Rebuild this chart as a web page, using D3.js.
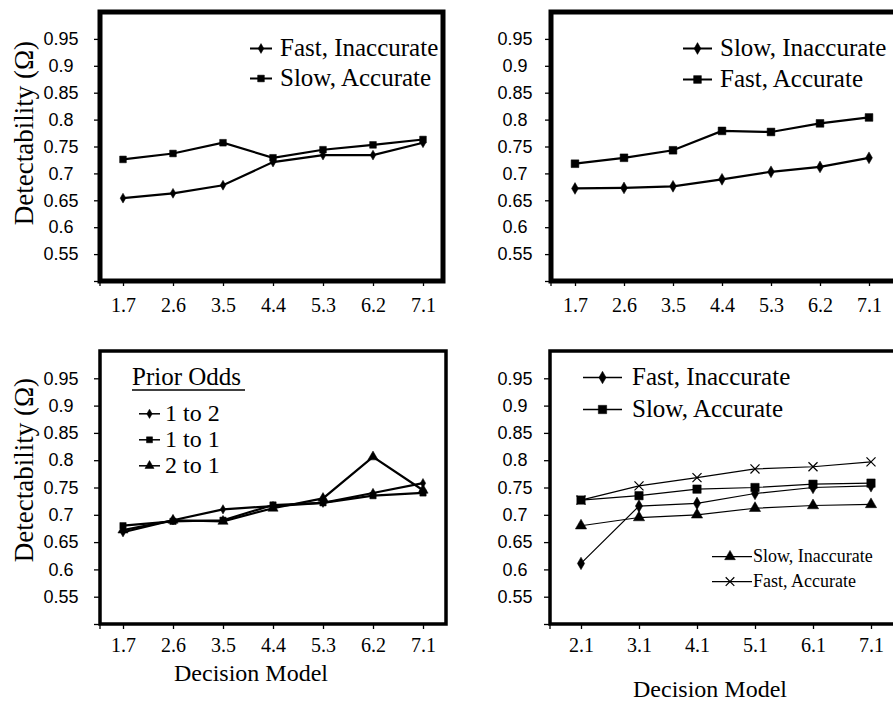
<!DOCTYPE html>
<html>
<head>
<meta charset="utf-8">
<title>detectability by decision model</title>
<script src="https://cdn.jsdelivr.net/npm/d3@7"></script>
<style>
  body { margin: 0; background: #fff; }
  svg { display: block; }
</style>
</head>
<body>
<svg width="893" height="702"></svg>
<script>
// ---- data ----
var modelsA = ["1.7", "2.6", "3.5", "4.4", "5.3", "6.2", "7.1"];
var modelsB = ["2.1", "3.1", "4.1", "5.1", "6.1", "7.1"];
var yTicks = [0.5, 0.55, 0.6, 0.65, 0.7, 0.75, 0.8, 0.85, 0.9, 0.95];

// top left
var fastInaccurate1 = [0.654, 0.663, 0.678, 0.721, 0.734, 0.734, 0.757];
var slowAccurate1   = [0.726, 0.737, 0.757, 0.729, 0.744, 0.753, 0.763];
// top right
var slowInaccurate2 = [0.672, 0.673, 0.676, 0.689, 0.703, 0.712, 0.729];
var fastAccurate2   = [0.718, 0.729, 0.743, 0.779, 0.777, 0.793, 0.804];
// bottom left, prior odds
var odds1to2 = [0.668, 0.690, 0.710, 0.716, 0.722, 0.740, 0.758];
var odds1to1 = [0.680, 0.688, 0.690, 0.718, 0.722, 0.735, 0.740];
var odds2to1 = [0.672, 0.690, 0.688, 0.712, 0.730, 0.806, 0.745];
// bottom right
var fastInaccurate4 = [0.611, 0.716, 0.721, 0.739, 0.750, 0.753];
var slowAccurate4   = [0.727, 0.735, 0.747, 0.750, 0.756, 0.758];
var slowInaccurate4 = [0.680, 0.695, 0.700, 0.712, 0.717, 0.719];
var fastAccurate4   = [0.727, 0.753, 0.768, 0.784, 0.788, 0.797];

var SERIF = "'Liberation Serif', 'Times New Roman', serif";
var SANS = "'Liberation Sans', Arial, sans-serif";

var svg = d3.select("svg");

function marker(sel, type, size) {
  var sym = {diamond: d3.symbolDiamond, square: d3.symbolSquare,
             triangle: d3.symbolTriangle, x: d3.symbolX}[type];
  sel.attr("d", d3.symbol().type(sym).size(size))
    .attr("fill", type === "x" ? "none" : "#000")
    .attr("stroke", "#000")
    .attr("stroke-width", type === "x" ? 1.2 : 0.5);
}

function drawPanel(p) {
  var g = svg.append("g");
  var x = d3.scalePoint().domain(p.cats).range(p.xr);
  var y = d3.scaleLinear().domain([0.5, 1]).range([p.y1, p.y0]);

  // y axis ticks + labels
  var ya = g.append("g")
    .attr("transform", "translate(" + p.x0 + ",0)")
    .call(d3.axisLeft(y).tickValues(yTicks).tickSize(6)
      .tickFormat(function(d) { return d === 0.5 ? "" : String(+d.toFixed(2)); }));
  ya.select(".domain").remove();
  ya.selectAll("line").attr("stroke-width", 1.3);
  ya.selectAll("text")
    .attr("x", p.labelX - p.x0)
    .attr("text-anchor", "middle")
    .style("font-family", SANS)
    .style("font-size", "18px")
    .attr("fill", "#000");

  // x axis
  var xa = g.append("g")
    .attr("transform", "translate(0," + p.y1 + ")")
    .call(d3.axisBottom(x).tickSize(5).tickPadding(p.pad));
  xa.select(".domain").remove();
  xa.selectAll("line").attr("stroke-width", 1.3);
  xa.selectAll("text")
    .style("font-family", SERIF)
    .style("font-size", "20px")
    .attr("fill", "#000");
  g.append("line")
    .attr("x1", p.x0).attr("x2", p.x0)
    .attr("y1", p.y1).attr("y2", p.y1 + 5)
    .attr("stroke", "#000").attr("stroke-width", 1.3);

  // frame
  g.append("rect")
    .attr("x", p.x0).attr("y", p.y0)
    .attr("width", p.x1 - p.x0).attr("height", p.y1 - p.y0)
    .attr("fill", "none").attr("stroke", "#000")
    .attr("stroke-width", p.frameW);

  var line = d3.line()
    .x(function(d, i) { return x(p.cats[i]); })
    .y(function(d) { return y(d); });

  p.series.forEach(function(s) {
    g.append("path")
      .datum(s.values)
      .attr("d", line)
      .attr("fill", "none")
      .attr("stroke", "#000")
      .attr("stroke-width", p.lineW);
    g.selectAll(null)
      .data(s.values)
      .enter().append("path")
      .attr("transform", function(d, i) { return "translate(" + x(p.cats[i]) + "," + y(d) + ")"; })
      .call(marker, s.symbol, s.size);
  });

  // legends
  p.legends.forEach(function(L) {
    L.items.forEach(function(it, i) {
      var by = L.y + i * L.step;
      var ly = by - L.fs * 0.3;
      g.append("line")
        .attr("x1", L.lx0).attr("x2", L.lx1)
        .attr("y1", ly).attr("y2", ly)
        .attr("stroke", "#000").attr("stroke-width", L.lw);
      g.append("path")
        .attr("transform", "translate(" + (L.mx || (L.lx0 + L.lx1) / 2) + "," + ly + ")")
        .call(marker, it.symbol, it.size);
      g.append("text")
        .attr("x", L.tx).attr("y", by)
        .style("font-family", SERIF)
        .style("font-size", L.fs + "px")
        .text(it.name);
    });
  });
  return g;
}

drawPanel({
  x0: 100, x1: 443, y0: 12, y1: 281, cats: modelsA, xr: [123, 423],
  labelX: 61, frameW: 5, lineW: 2.2, pad: 12,
  series: [
    {values: fastInaccurate1, symbol: "diamond", size: 28},
    {values: slowAccurate1, symbol: "square", size: 45}
  ],
  legends: [{lx0: 250, lx1: 272, tx: 280, y: 56, step: 30, fs: 25, lw: 2,
    items: [{name: "Fast, Inaccurate", symbol: "diamond", size: 28},
            {name: "Slow, Accurate", symbol: "square", size: 45}]}]
});

drawPanel({
  x0: 551, x1: 905, y0: 12, y1: 281, cats: modelsA, xr: [575, 869],
  labelX: 515, frameW: 5, lineW: 2.2, pad: 12,
  series: [
    {values: slowInaccurate2, symbol: "diamond", size: 40},
    {values: fastAccurate2, symbol: "square", size: 60}
  ],
  legends: [{lx0: 683, lx1: 712, tx: 720, y: 56, step: 31, fs: 25, lw: 2,
    items: [{name: "Slow, Inaccurate", symbol: "diamond", size: 40},
            {name: "Fast, Accurate", symbol: "square", size: 60}]}]
});

drawPanel({
  x0: 100, x1: 446, y0: 351, y1: 624, cats: modelsA, xr: [123, 423],
  labelX: 61, frameW: 3.5, lineW: 2.2, pad: 9,
  series: [
    {values: odds1to2, symbol: "diamond", size: 25},
    {values: odds1to1, symbol: "square", size: 40},
    {values: odds2to1, symbol: "triangle", size: 45}
  ],
  legends: [{lx0: 139, lx1: 160, tx: 165, y: 421, step: 26, fs: 24, lw: 1.5,
    items: [{name: "1 to 2", symbol: "diamond", size: 25},
            {name: "1 to 1", symbol: "square", size: 36},
            {name: "2 to 1", symbol: "triangle", size: 36}]}]
});

drawPanel({
  x0: 550, x1: 905, y0: 351, y1: 624, cats: modelsB, xr: [581, 871],
  labelX: 515, frameW: 3.5, lineW: 1.2, pad: 9,
  series: [
    {values: fastInaccurate4, symbol: "diamond", size: 45},
    {values: slowAccurate4, symbol: "square", size: 70},
    {values: slowInaccurate4, symbol: "triangle", size: 55},
    {values: fastAccurate4, symbol: "x", size: 55}
  ],
  legends: [
    {lx0: 583, lx1: 622, tx: 632, y: 385, step: 32, fs: 25, lw: 1.3,
      items: [{name: "Fast, Inaccurate", symbol: "diamond", size: 45},
              {name: "Slow, Accurate", symbol: "square", size: 70}]},
    {lx0: 712, lx1: 752, mx: 730, tx: 753, y: 562, step: 25, fs: 18, lw: 1.3,
      items: [{name: "Slow, Inaccurate", symbol: "triangle", size: 50},
              {name: "Fast, Accurate", symbol: "x", size: 50}]}
  ]
});

// Prior Odds heading
svg.append("text")
  .attr("x", 132).attr("y", 385)
  .style("font-family", SERIF)
  .style("font-size", "25px")
  .text("Prior Odds");
svg.append("line")
  .attr("x1", 132).attr("x2", 245).attr("y1", 390).attr("y2", 390)
  .attr("stroke", "#000").attr("stroke-width", 1.3);

// axis titles
[133, 470].forEach(function(cy) {
  svg.append("text")
    .attr("transform", "translate(24," + cy + ") rotate(-90)")
    .attr("text-anchor", "middle")
    .attr("dy", "0.35em")
    .style("font-family", SERIF)
    .style("font-size", "27px")
    .text("Detectability (\u03A9)");
});
svg.append("text")
  .attr("x", 251).attr("y", 681).attr("text-anchor", "middle")
  .style("font-family", SERIF)
  .style("font-size", "24px").text("Decision Model");
svg.append("text")
  .attr("x", 710).attr("y", 697).attr("text-anchor", "middle")
  .style("font-family", SERIF)
  .style("font-size", "24px").text("Decision Model");
</script>
</body>
</html>
